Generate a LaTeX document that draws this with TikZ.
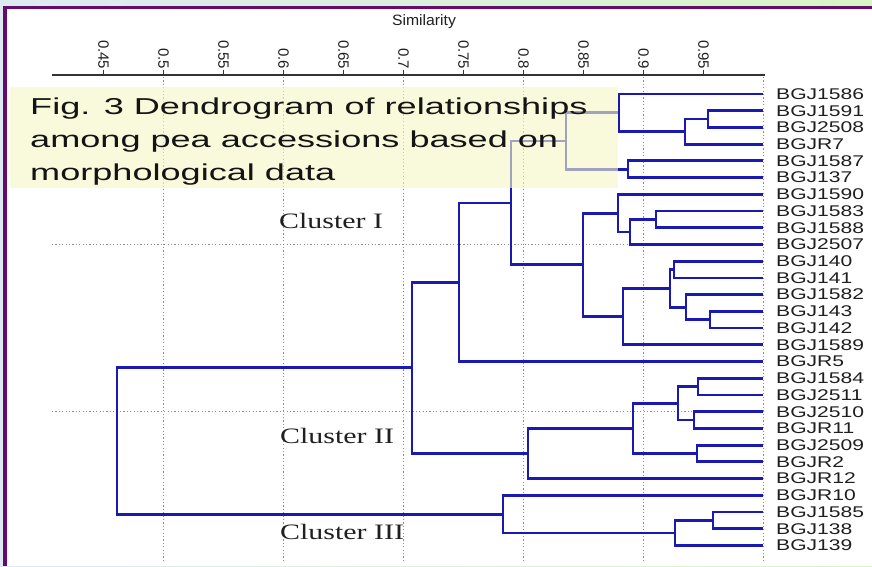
\documentclass[tikz,border=0pt]{standalone}
\usepackage{fontspec}
\setmainfont{Liberation Sans}
\newfontfamily\leaffont[FakeStretch=1.36]{Liberation Sans}
\newfontfamily\capfont[FakeStretch=1.57]{Liberation Sans}
\newfontfamily\clfont[FakeStretch=1.36]{Liberation Serif}
\newfontfamily\simfont[FakeStretch=1.05]{Liberation Sans}
\definecolor{branch}{RGB}{26,26,178}
\definecolor{framepurple}{RGB}{102,10,110}
\definecolor{stripblue}{RGB}{222,234,242}
\definecolor{stripgreen}{RGB}{214,246,196}
\definecolor{capfill}{RGB}{246,246,200}
\definecolor{gridgray}{RGB}{140,140,140}
\tikzset{
  br/.style={draw=branch, line width=2.8pt, line join=miter},
  gridline/.style={draw=gridgray, line width=1.2pt, dash pattern=on 1.2pt off 2.2pt},
  leaflabel/.style={anchor=west, inner sep=0pt, font=\leaffont\fontsize{15.5}{15.5}\selectfont, text=black!88},
  ticklabel/.style={anchor=east, rotate=-90, inner sep=0pt, font=\fontsize{15}{15}\selectfont, text=black!88},
  caplabel/.style={anchor=base west, inner sep=0pt, font=\capfont\fontsize{23}{23}\selectfont, text=black!92},
  cllabel/.style={anchor=base west, inner sep=0pt, font=\clfont\fontsize{22}{22}\selectfont, text=black!88},
}
\begin{document}
\begin{tikzpicture}[x=1pt,y=-1pt]
\useasboundingbox (0,0) rectangle (872,566);
% page frame
\shade[left color=stripblue, right color=stripgreen] (0,0) rectangle (872,566);
\fill[white] (7.3,8.7) rectangle (872,566);
\fill[framepurple] (3.3,5.5) rectangle (872,8.7);
\fill[framepurple] (3.3,5.5) rectangle (7.3,566);

% axis
\node[font=\simfont\fontsize{15}{15}\selectfont, text=black!88] (simtitle) at (424,22) {Similarity};
\coordinate (axL) at (52,75);
\coordinate (axR) at (765,75);
\draw[line width=1.1pt, black!80] (axL) -- (axR);
\foreach \v [count=\k from 0] in {0.45,0.5,0.55,0.6,0.65,0.7,0.75,0.8,0.85,0.9,0.95}{
  \coordinate (tk\k) at (103.5+60*\k,75);
  \coordinate (tt\k) at (103.5+60*\k,69.5);
  \draw[line width=1.1pt, black!80] (tk\k) -- (tt\k);
  \node[ticklabel] (tl\k) at (tt\k) {\v};
}

% grid lines
\foreach \k in {1,...,6}{
  \coordinate (gt\k) at (43.5+120*\k,77);
  \coordinate (gb\k) at (43.5+120*\k,562);
  \draw[gridline] (gt\k) -- (gb\k);
}
\coordinate (h1a) at (52,244.5); \coordinate (h1b) at (763,244.5);
\coordinate (h2a) at (52,411.7); \coordinate (h2b) at (763,411.7);
\draw[gridline] (h1a) -- (h1b);
\draw[gridline] (h2a) -- (h2b);

% leaves
\foreach \name [count=\i] in {BGJ1586,BGJ1591,BGJ2508,BGJR7,BGJ1587,BGJ137,BGJ1590,BGJ1583,BGJ1588,BGJ2507,BGJ140,BGJ141,BGJ1582,BGJ143,BGJ142,BGJ1589,BGJR5,BGJ1584,BGJ2511,BGJ2510,BGJR11,BGJ2509,BGJR2,BGJR12,BGJR10,BGJ1585,BGJ138,BGJ139}{
  \coordinate (c\i) at (763,{94+16.72*(\i-1)});
  \node[leaflabel] (t\i) at (776,{94+16.72*(\i-1)}) {\name};
}

% internal nodes
\coordinate (nA) at (708,119.05);
\coordinate (nB) at (685,131.6);
\coordinate (nC) at (619,112.8);
\coordinate (nD) at (628,169.25);
\coordinate (nE) at (566,141.0);
\coordinate (nF) at (656,219.4);
\coordinate (nG) at (630,231.95);
\coordinate (nH) at (618,213.1);
\coordinate (nI) at (674,269.55);
\coordinate (nJ) at (710,319.75);
\coordinate (nK) at (686,307.2);
\coordinate (nL) at (670,288.4);
\coordinate (nM) at (623,316.6);
\coordinate (nN) at (583,264.85);
\coordinate (nO) at (511,202.9);
\coordinate (nP) at (459,282.2);
\coordinate (nQ) at (698,386.6);
\coordinate (nR) at (694,420.05);
\coordinate (nS) at (678,403.3);
\coordinate (nT) at (697,453.45);
\coordinate (nU) at (633,428.4);
\coordinate (nV) at (528,453.5);
\coordinate (nW) at (412,367.85);
\coordinate (nX) at (713,520.35);
\coordinate (nY) at (675,532.9);
\coordinate (nZ) at (503,514.1);
\coordinate (nRoot) at (117,440.97);

\draw[br] (c2) -| (nA) |- (c3);
\draw[br] (nA) -| (nB) |- (c4);
\draw[br] (c1) -| (nC) |- (nB);
\draw[br] (c5) -| (nD) |- (c6);
\draw[br] (nC) -| (nE) |- (nD);
\draw[br] (c8) -| (nF) |- (c9);
\draw[br] (nF) -| (nG) |- (c10);
\draw[br] (c7) -| (nH) |- (nG);
\draw[br] (c11) -| (nI) |- (c12);
\draw[br] (c14) -| (nJ) |- (c15);
\draw[br] (c13) -| (nK) |- (nJ);
\draw[br] (nI) -| (nL) |- (nK);
\draw[br] (nL) -| (nM) |- (c16);
\draw[br] (nH) -| (nN) |- (nM);
\draw[br] (nE) -| (nO) |- (nN);
\draw[br] (nO) -| (nP) |- (c17);
\draw[br] (c18) -| (nQ) |- (c19);
\draw[br] (c20) -| (nR) |- (c21);
\draw[br] (nQ) -| (nS) |- (nR);
\draw[br] (c22) -| (nT) |- (c23);
\draw[br] (nS) -| (nU) |- (nT);
\draw[br] (nU) -| (nV) |- (c24);
\draw[br] (nP) -| (nW) |- (nV);
\draw[br] (c26) -| (nX) |- (c27);
\draw[br] (nX) -| (nY) |- (c28);
\draw[br] (c25) -| (nZ) |- (nY);
\draw[br] (nW) -| (nRoot) |- (nZ);

% cluster labels
\node[cllabel] (cl1) at (279,228) {Cluster I};
\node[cllabel] (cl2) at (280,443) {Cluster II};
\node[cllabel] (cl3) at (280,539) {Cluster III};

% caption box
\fill[capfill, fill opacity=0.62] (10,87) rectangle (618,188);
\node[caplabel] (cap1) at (30,114) {Fig. 3 Dendrogram of relationships};
\node[caplabel] (cap2) at (30,147) {among pea accessions based on};
\node[caplabel] (cap3) at (30,180) {morphological data};
\end{tikzpicture}
\end{document}
